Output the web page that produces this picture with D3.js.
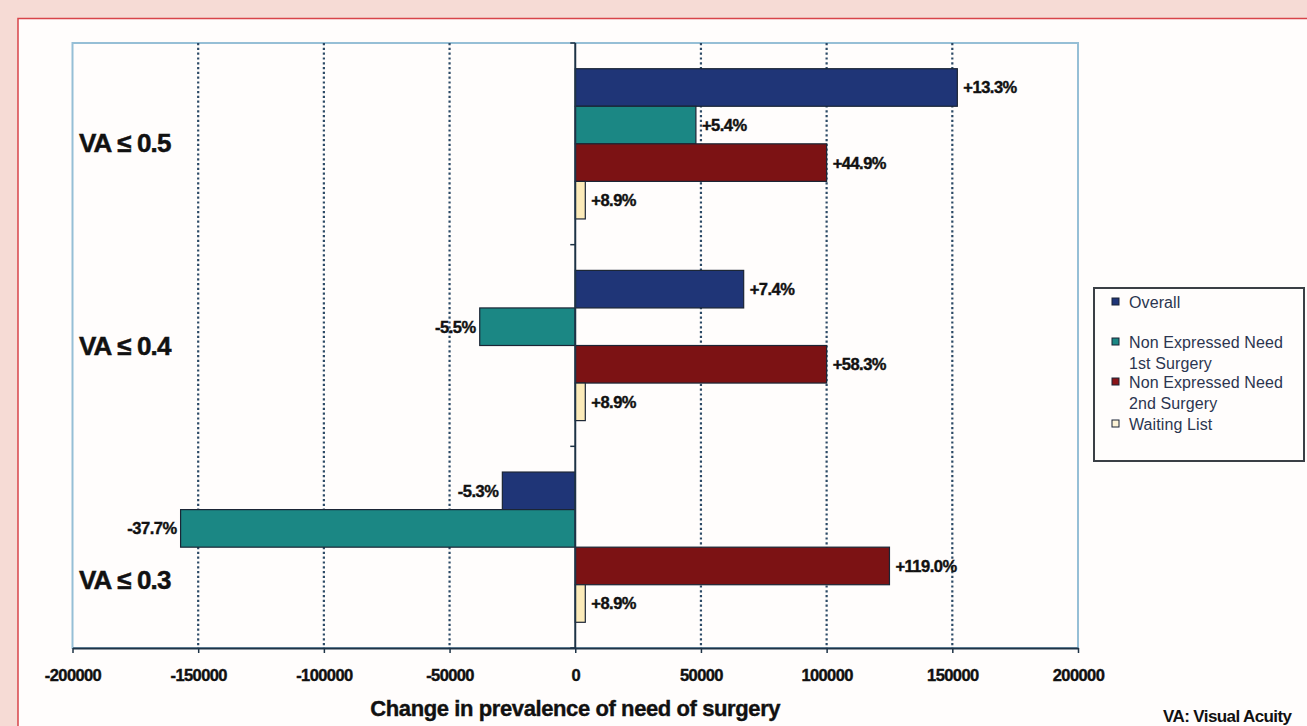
<!DOCTYPE html>
<html>
<head>
<meta charset="utf-8">
<script src="https://cdn.jsdelivr.net/npm/d3@7"></script>
<style>
    html, body { margin: 0; padding: 0; background: #f6dbd5; }
    svg { display: block; }
</style>
</head>
<body>
<svg id="chart" width="1307" height="726"></svg>
<script>
const categories = ['VA \u2264 0.5', 'VA \u2264 0.4', 'VA \u2264 0.3'];
const seriesKeys = ['overall', 'first', 'second', 'waiting'];
const seriesLegend = [['Overall'], ['Non Expressed Need', '1st Surgery'], ['Non Expressed Need', '2nd Surgery'], ['Waiting List']];
const overall = [152000, 67000, -29000];
const firstSurgery = [48000, -38000, -157000];
const secondSurgery = [100000, 100000, 125000];
const waitingList = [4000, 4000, 4000];
const overallLabels = ['+13.3%', '+7.4%', '-5.3%'];
const firstLabels = ['+5.4%', '-5.5%', '-37.7%'];
const secondLabels = ['+44.9%', '+58.3%', '+119.0%'];
const waitingLabels = ['+8.9%', '+8.9%', '+8.9%'];
const xTicks = [-200000, -150000, -100000, -50000, 0, 50000, 100000, 150000, 200000];
const xTitle = 'Change in prevalence of need of surgery';
const footnote = 'VA: Visual Acuity';

const colors = {overall: '#1f3577', first: '#1b8784', second: '#7c1214', waiting: '#fcebb9'};
const legendColors = {overall: '#1f3577', first: '#1b8784', second: '#8a1418', waiting: '#fdf3d6'};
const boldFont = '"Liberation Sans", Arial, sans-serif';

const plot = {left: 72.5, right: 1078, top: 43, bottom: 648};
const labelShift = [8, 9, 42];

const values = {overall, first: firstSurgery, second: secondSurgery, waiting: waitingList};
const labels = {overall: overallLabels, first: firstLabels, second: secondLabels, waiting: waitingLabels};

const rows = categories.flatMap((cat, i) => seriesKeys.map(key => ({
    cat, key, value: values[key][i], label: labels[key][i]
})));

const svg = d3.select('#chart');

// white panel with the red frame
svg.append('rect')
    .attr('x', 18).attr('y', 18.5).attr('width', 1300).attr('height', 720)
    .attr('fill', '#fffdfc').attr('stroke', '#d8444a').attr('stroke-width', 1.5);

const x = d3.scaleLinear().domain([-200000, 200000]).range([plot.left, plot.right]);
const y = d3.scaleBand().domain(categories).range([plot.top, plot.bottom]).paddingInner(0.255).paddingOuter(0.1275);
const ySub = d3.scaleBand().domain(seriesKeys).range([0, y.bandwidth()]);

// plot border
svg.append('rect')
    .attr('x', plot.left).attr('y', plot.top)
    .attr('width', plot.right - plot.left).attr('height', plot.bottom - plot.top)
    .attr('fill', 'none').attr('stroke', '#96bfd6').attr('stroke-width', 2);

// dotted gridlines
svg.append('g')
    .selectAll('line')
    .data(xTicks.filter(t => t !== 0 && Math.abs(t) !== 200000))
    .join('line')
    .attr('x1', d => x(d)).attr('x2', d => x(d))
    .attr('y1', plot.top).attr('y2', plot.bottom)
    .attr('stroke', '#2c4a66').attr('stroke-width', 2.2).attr('stroke-dasharray', '2.2,2.6');

// bars
svg.append('g')
    .selectAll('rect')
    .data(rows)
    .join('rect')
    .attr('x', d => x(Math.min(0, d.value)))
    .attr('y', d => y(d.cat) + ySub(d.key))
    .attr('width', d => Math.abs(x(d.value) - x(0)))
    .attr('height', ySub.bandwidth())
    .attr('fill', d => colors[d.key])
    .attr('stroke', '#1b2535').attr('stroke-width', 1.2);

// value labels
svg.append('g')
    .selectAll('text')
    .data(rows)
    .join('text')
    .attr('x', d => d.value >= 0 ? x(d.value) + 6 : x(d.value) - 4)
    .attr('y', d => y(d.cat) + ySub(d.key) + ySub.bandwidth() / 2)
    .attr('dy', '0.36em')
    .attr('text-anchor', d => d.value >= 0 ? 'start' : 'end')
    .attr('font-family', boldFont).attr('font-weight', 'bold')
    .attr('font-size', 16.5).attr('letter-spacing', -0.5)
    .attr('fill', '#111').attr('stroke', '#111').attr('stroke-width', 0.4)
    .text(d => d.label);

// x axis
const xAxis = svg.append('g')
    .attr('transform', `translate(0,${plot.bottom})`)
    .call(d3.axisBottom(x).tickValues(xTicks).tickFormat(d => String(d)).tickSize(5).tickSizeOuter(0));
xAxis.select('.domain').attr('stroke', '#1e3346').attr('stroke-width', 2);
xAxis.selectAll('.tick line').attr('stroke', '#1e3346').attr('stroke-width', 1.5);
xAxis.selectAll('.tick text')
    .attr('y', 33).attr('dy', 0)
    .attr('font-family', boldFont).attr('font-weight', 'bold')
    .attr('font-size', 16.5).attr('letter-spacing', -0.6)
    .attr('fill', '#111').attr('stroke', '#111').attr('stroke-width', 0.4);

// y axis at zero with ticks between the categories
const yAxis = svg.append('g').attr('transform', `translate(${x(0)},0)`);
yAxis.append('line')
    .attr('y1', plot.top).attr('y2', plot.bottom)
    .attr('stroke', '#1e3346').attr('stroke-width', 2);
const step = y.step();
yAxis.selectAll('.btick')
    .data(d3.range(categories.length + 1))
    .join('line')
    .attr('class', 'btick')
    .attr('x1', -5).attr('x2', 0)
    .attr('y1', i => plot.top + i * step).attr('y2', i => plot.top + i * step)
    .attr('stroke', '#1e3346').attr('stroke-width', 1.5);

// category labels
svg.append('g')
    .selectAll('text')
    .data(categories)
    .join('text')
    .attr('x', 79)
    .attr('y', (d, i) => y(d) + y.bandwidth() / 2 + labelShift[i])
    .attr('font-family', boldFont).attr('font-weight', 'bold')
    .attr('font-size', 26).attr('letter-spacing', -0.8)
    .attr('fill', '#111').attr('stroke', '#111').attr('stroke-width', 0.5)
    .text(d => d);

// axis title and footnote
svg.append('text')
    .attr('x', x(0)).attr('y', 716)
    .attr('text-anchor', 'middle')
    .attr('font-family', boldFont).attr('font-weight', 'bold')
    .attr('font-size', 22).attr('letter-spacing', -0.4)
    .attr('fill', '#111').attr('stroke', '#111').attr('stroke-width', 0.4)
    .text(xTitle);

svg.append('text')
    .attr('x', 1163).attr('y', 722)
    .attr('font-family', boldFont).attr('font-weight', 'bold')
    .attr('font-size', 17).attr('letter-spacing', -0.6)
    .attr('fill', '#111')
    .text(footnote);

// legend
const legend = svg.append('g').attr('transform', 'translate(1094,288)');
legend.append('rect')
    .attr('width', 210).attr('height', 173)
    .attr('fill', '#fffdfc').attr('stroke', '#3a3f45').attr('stroke-width', 2);
const legendRowY = [14, 54, 94, 136];
const lineGap = 21;
const entries = legend.selectAll('.entry')
    .data(seriesKeys)
    .join('g')
    .attr('class', 'entry')
    .attr('transform', (d, i) => `translate(0,${legendRowY[i]})`);
entries.append('rect')
    .attr('x', 18).attr('y', -4).attr('width', 7).attr('height', 7)
    .attr('fill', d => legendColors[d]).attr('stroke', '#1b2535').attr('stroke-width', 1);
entries.each(function (d, i) {
    d3.select(this).selectAll('text')
        .data(seriesLegend[i])
        .join('text')
        .attr('x', 35)
        .attr('y', (t, j) => j * lineGap)
        .attr('dy', '0.35em')
        .attr('font-family', boldFont)
        .attr('font-size', 16).attr('letter-spacing', 0.1)
        .attr('fill', '#2b3550')
        .text(t => t);
});
</script>
</body>
</html>
